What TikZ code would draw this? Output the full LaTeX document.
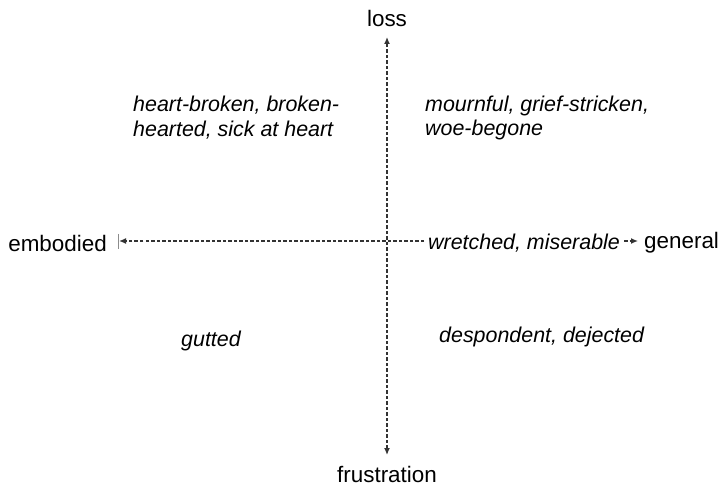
\documentclass[tikz,border=0pt]{standalone}
\usepackage{fontspec}
\setmainfont{Liberation Sans}
\usetikzlibrary{arrows.meta}
\begin{document}
\begin{tikzpicture}[x=1bp,y=-1bp,
  lbl/.style={font=\fontsize{22.5}{26}\selectfont, inner sep=0pt},
  word/.style={font=\fontsize{21.5}{25}\selectfont\itshape, inner sep=0pt, align=left},
  axis/.style={draw=black!80, line width=1.3bp, dash pattern=on 3.5bp off 2bp},
  ah/.style={Latex[length=7bp,width=6bp]},
  tip/.style={-{Latex[length=7bp,width=6bp]}},
  ]
\useasboundingbox (0,0) rectangle (725,486);
\node[lbl] (loss) at (387,18) {loss};
\node[lbl] (frus) at (387,474) {frustration};
\node[lbl,anchor=east] (emb) at (107,243) {embodied};
\node[lbl,anchor=west] (gen) at (644,243) {general};
\node[word,anchor=west] (wre) at (428,243) {wretched, miserable};
\node[word,anchor=west] (hb) at (133,118) {heart-broken, broken-\\hearted, sick at heart};
\node[word,anchor=west] (mo) at (425,118) {mournful, grief-stricken,\\woe-begone};
\node[word,anchor=west] (gu) at (181,341) {gutted};
\node[word,anchor=west] (de) at (439,337) {despondent, dejected};
\coordinate (top) at (387,37);
\coordinate (bot) at (387,455);
\coordinate (lt) at (119,241);
\coordinate (rt) at (638,241);
\draw[axis,{Latex[length=7bp,width=6bp]}-{Latex[length=7bp,width=6bp]}] (bot) -- (top);
\draw[axis,tip] (wre.west |- lt) ++(-4,0) -- (lt);
\draw[black!45, line width=0.7bp] (118,234) -- (118,249);
\draw[axis,tip] (wre.east |- rt) ++(4,0) -- (rt);
\end{tikzpicture}
\end{document}
